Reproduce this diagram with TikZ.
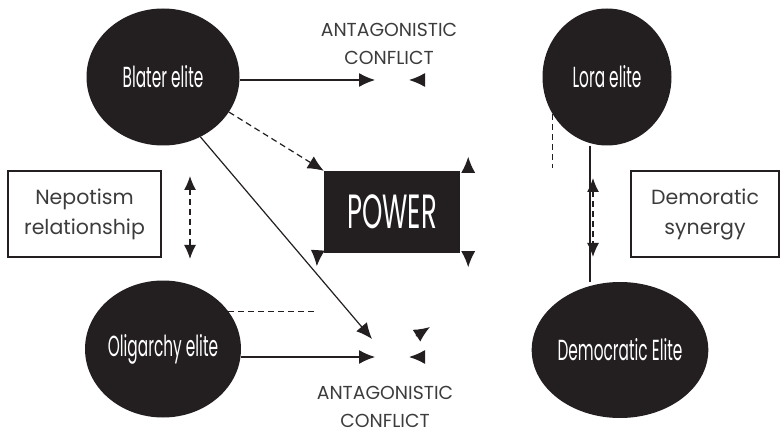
\documentclass[tikz,border=0pt]{standalone}
\usepackage{fontspec}
\setmainfont{Poppins}
\newfontfamily\condfont[FakeStretch=0.53]{Poppins}
\newfontfamily\powerfont[FakeStretch=0.54]{Poppins}
\usetikzlibrary{arrows.meta,shapes}
\definecolor{ink}{HTML}{231F20}
\definecolor{textgrey}{HTML}{3C3C3C}

\begin{document}
\begin{tikzpicture}[x=1pt,y=-1pt,
    elite/.style={ellipse, fill=ink, text=white, inner sep=0pt,
        font=\condfont\fontsize{29}{29}\selectfont},
    notebox/.style={draw=ink, line width=1.2pt, text=textgrey, align=center,
        inner sep=0pt, minimum height=86pt,
        font=\fontsize{20.5}{30}\selectfont},
    conflict/.style={text=textgrey, align=center,
        font=\fontsize{18.8}{28}\selectfont},
    tip/.style={-{Latex[length=16pt,width=14pt]}, line width=1.2pt, ink},
    dtip/.style={{Latex[length=14pt,width=12pt]}-{Latex[length=14pt,width=12pt]},
        dashed, dash pattern=on 6pt off 4pt, line width=1.2pt, ink},
    link/.style={line width=1.2pt, ink}]
    \useasboundingbox (0,0) rectangle (780,433);

    % the four elites
    \node[elite, minimum width=153pt, minimum height=137pt] (blater) at (163,77) {Blater elite};
    \node[elite, minimum width=153pt, minimum height=137pt] (oligarchy) at (163,349) {Oligarchy elite};
    \node[elite, minimum width=129pt, minimum height=137pt] (lora) at (607,77) {Lora elite};
    \node[elite, minimum width=151pt, minimum height=136pt] (democratic) at (620,350) {Democratic Elite};

    % power in the middle
    \node[fill=ink, text=white, minimum width=136pt, minimum height=82pt,
        font=\powerfont\fontsize{48}{48}\selectfont] (power) at (392,212) {POWER};

    % side boxes
    \node[notebox, minimum width=153pt] (nepotism) at (84.5,214) {Nepotism\\relationship};
    \node[notebox, minimum width=148pt] (synergy) at (705,214) {Demoratic\\synergy};

    \node[conflict] (conflicttop) at (389,44) {ANTAGONISTIC\\CONFLICT};
    \node[conflict] (conflictbot) at (385,407) {ANTAGONISTIC\\CONFLICT};

    % free ends
    \coordinate (c1) at (375,80);
    \coordinate (c2) at (409,80);
    \coordinate (c3) at (372,339);
    \coordinate (c4) at (375,357);
    \coordinate (c5) at (409,357);
    \coordinate (c6) at (430,327);
    \coordinate (d1) at (315,312);
    \coordinate (d2) at (555,168);
    \coordinate (v1) at (590,0);
    \coordinate (n1) at (190,176);
    \coordinate (n2) at (190,259);
    \coordinate (s1) at (593,178);
    \coordinate (s2) at (593,257);

    % conflicts
    \draw[tip] (blater.east |- c1) -- (c1);
    \draw[tip] ([xshift=16pt]c2) -- (c2);
    \draw[tip] (blater.-58) -- (c3);
    \draw[tip] (oligarchy.east |- c4) -- (c4);
    \draw[tip] ([xshift=16pt]c5) -- (c5);
    \draw[tip] ([shift={(-14,9)}]c6) -- (c6);

    % power
    \draw[tip, dashed, dash pattern=on 6pt off 4pt] (blater.-28) -- (power.north west);
    \draw[tip] ([shift={(8,2)}]power.north east) -- ++(0,-16);
    \draw[tip] ([shift={(8,-2)}]power.south east) -- ++(0,16);
    \draw[tip] ([shift={(-6,-3)}]power.south west) -- ++(-1,16);

    % relationships
    \draw[link, dashed, dash pattern=on 6pt off 4pt] (oligarchy.30) -- (oligarchy.30 -| d1);
    \draw[link, dashed, dash pattern=on 6pt off 4pt] (lora.214) -- (lora.214 |- d2);
    \draw[link] (lora.south -| v1) -- (democratic.north -| v1);
    \draw[dtip] (n1) -- (n2);
    \draw[dtip] (s1) -- (s2);
\end{tikzpicture}
\end{document}
